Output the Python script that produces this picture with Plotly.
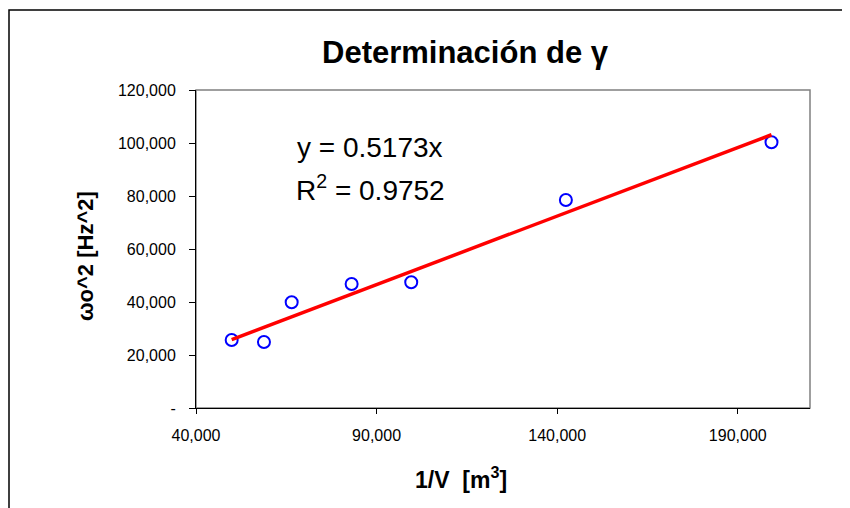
import plotly.graph_objects as go

# Data
inv_v = [49880, 58820, 66490, 83090, 99590, 142410, 199340]
omega_sq = [25660, 24900, 39890, 46790, 47430, 78490, 100260]
slope = 0.5173
r2 = 0.9752

y_tickvals = [0, 20000, 40000, 60000, 80000, 100000, 120000]
y_ticktext = ["-", "20,000", "40,000", "60,000", "80,000", "100,000", "120,000"]
x_tickvals = [40000, 90000, 140000, 190000]
x_ticktext = ["40,000", "90,000", "140,000", "190,000"]

FONT = "Arial, Liberation Sans, sans-serif"

W, H = 850, 508
OFF = 8  # page body margin offset
L, T = 196 - OFF, 90 - OFF
R = W - (810 - OFF)
B = H - (408 - OFF)
pw, ph = W - L - R, H - T - B

def px_x(x):
    return (x - OFF - L) / pw

def px_y(y):
    return (H - B - (y - OFF)) / ph

fit_x = [min(inv_v), max(inv_v)]
fit_y = [slope * v for v in fit_x]

fig = go.Figure()
fig.add_trace(go.Scatter(
    x=inv_v, y=omega_sq, mode="markers",
    marker=dict(symbol="circle-open", size=12, color="#0000FF",
                line=dict(width=2, color="#0000FF")),
    showlegend=False, hoverinfo="x+y"))
fig.add_trace(go.Scatter(
    x=fit_x, y=fit_y, mode="lines",
    line=dict(color="#FF0000", width=3.5),
    showlegend=False))

fig.update_layout(
    width=W, height=H,
    margin=dict(l=L, r=R, t=T, b=B),
    paper_bgcolor="white", plot_bgcolor="white",
    font=dict(family=FONT, color="black"),
    xaxis=dict(range=[40000, 210000], tickvals=x_tickvals, ticktext=x_ticktext,
               showgrid=False, zeroline=False, showline=True, linecolor="black",
               linewidth=1, ticks="outside", ticklen=5, tickcolor="black",
               ticklabelstandoff=8,
               tickfont=dict(size=16, family=FONT)),
    yaxis=dict(range=[0, 120000], tickvals=y_tickvals, ticktext=y_ticktext,
               showgrid=False, zeroline=False, showline=True, linecolor="black",
               linewidth=1, ticks="outside", ticklen=6, tickcolor="black",
               ticklabelstandoff=10,
               tickfont=dict(size=16, family=FONT)),
    shapes=[
        dict(type="rect", xref="paper", yref="paper", x0=0, x1=1, y0=0, y1=1,
             line=dict(color="#808080", width=1.5), layer="below"),
        dict(type="rect", xref="paper", yref="paper",
             x0=px_x(OFF + 1), x1=px_x(880), y0=px_y(540), y1=px_y(10),
             line=dict(color="black", width=1.5)),
    ],
    annotations=[
        dict(text="<b>Determinación de γ</b>", xref="paper", yref="paper",
             x=px_x(465), y=px_y(53), showarrow=False,
             font=dict(size=31, family=FONT), xanchor="center", yanchor="middle"),
        dict(text="<b>ωo^2 [Hz^2]</b>", xref="paper", yref="paper",
             x=px_x(85), y=px_y(256), showarrow=False, textangle=-90,
             font=dict(size=22, family=FONT), xanchor="center", yanchor="middle"),
        dict(text="<b>1/V  [m<sup>3</sup>]</b>", xref="paper", yref="paper",
             x=px_x(461), y=px_y(478), showarrow=False,
             font=dict(size=23, family=FONT), xanchor="center", yanchor="middle"),
        dict(text=f"y = {slope:.4f}x", xref="paper", yref="paper",
             x=px_x(370), y=px_y(147), showarrow=False,
             font=dict(size=28, family=FONT), xanchor="center", yanchor="middle"),
        dict(text=f"R<sup>2</sup> = {r2:.4f}", xref="paper", yref="paper",
             x=px_x(370), y=px_y(188), showarrow=False,
             font=dict(size=28, family=FONT), xanchor="center", yanchor="middle"),
    ],
)

fig.write_html("out.html")
